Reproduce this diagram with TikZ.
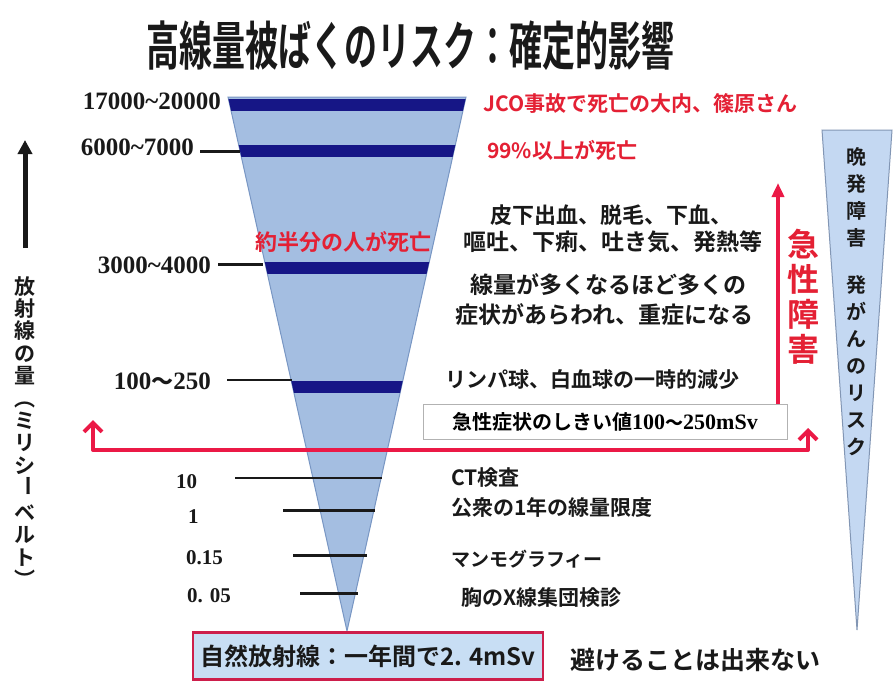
\documentclass[tikz,border=0pt]{standalone}
\usepackage{fontspec}
\usepackage{graphicx}
\usetikzlibrary{arrows.meta}
\setmainfont{Liberation Serif}
\newfontfamily\jp{Noto Sans CJK JP Bold}
\definecolor{funnel}{RGB}{164,190,225}
\definecolor{funneledge}{RGB}{120,150,195}
\definecolor{band}{RGB}{22,22,134}
\definecolor{jred}{RGB}{228,32,52}
\definecolor{ared}{RGB}{235,25,70}
\definecolor{late}{RGB}{196,216,242}
\definecolor{lateedge}{RGB}{130,150,180}
\definecolor{txt}{RGB}{25,25,25}
\definecolor{natbox}{RGB}{200,222,244}
\definecolor{natedge}{RGB}{205,30,75}
\tikzset{
  num/.style={font=\bfseries\fontsize{25}{25}\selectfont, text=txt, inner sep=0pt, anchor=east},
  smallnum/.style={font=\bfseries\fontsize{21}{21}\selectfont, text=txt, inner sep=0pt, anchor=west},
  jtext/.style={font=\jp\fontsize{22}{22}\selectfont, text=txt, inner sep=0pt, anchor=west},
  rtext/.style={font=\jp\fontsize{21}{21}\selectfont, text=jred, inner sep=0pt, anchor=west},
  leader/.style={line width=3pt, draw=txt},
  redarrow/.style={draw=ared, line width=4pt, line join=round},
}
\begin{document}
\begin{tikzpicture}[x=1pt,y=-1pt]
\useasboundingbox (0,0) rectangle (896,680);
\fill[white] (0,0) rectangle (896,680);

% title
\node[font=\jp\fontsize{50}{50}\selectfont, text=txt, inner sep=0pt] (title) at (410,46) {\scalebox{0.66}[1.05]{高線量被ばくのリスク：確定的影響}};

% funnel
\begin{scope}
  \path[fill=funnel, draw=funneledge, line width=1pt] (228,97) -- (466,97) -- (347,631) -- cycle;
  \clip (228,97) -- (466,97) -- (347,631) -- cycle;
  \fill[band] (200,99) rectangle (500,111);
  \fill[band] (200,145) rectangle (500,157);
  \fill[band] (200,262) rectangle (500,274);
  \fill[band] (200,381) rectangle (500,393);
\end{scope}

% right late-effect triangle
\path[fill=late, draw=lateedge, line width=1pt] (822,130) -- (892,130) -- (857,630) -- cycle;

% left labels
\node[num] (n1) at (221,101) {17000\textasciitilde 20000};
\node[num] (n2) at (194,147) {6000\textasciitilde 7000};
\node[num] (n3) at (211,265) {3000\textasciitilde 4000};
\node[num] (n4) at (211,381) {100{\jp\fontsize{22}{22}\selectfont 〜}250};
\node[smallnum] (n5) at (176,482) {10};
\node[smallnum] (n6) at (188,517) {1};
\node[smallnum] (n7) at (186,558) {0.15};
\node[smallnum] (n8) at (187,596) {0. 05};

\coordinate (a2) at (200,151); \coordinate (b2) at (240,151);
\coordinate (a3) at (218,264); \coordinate (b3) at (263,264);
\coordinate (a4) at (227,380); \coordinate (b4) at (292,380);
\coordinate (a5) at (235,478); \coordinate (b5) at (382,478);
\coordinate (a6) at (283,510); \coordinate (b6) at (375,510);
\coordinate (a7) at (293,555); \coordinate (b7) at (367,555);
\coordinate (a8) at (300,593); \coordinate (b8) at (358,593);
\draw[leader] (a2) -- (b2);
\draw[leader] (a3) -- (b3);
\draw[leader, line width=2pt] (a4) -- (b4);
\draw[leader, line width=2pt] (a5) -- (b5);
\draw[leader] (a6) -- (b6);
\draw[leader] (a7) -- (b7);
\draw[leader] (a8) -- (b8);

% red texts
\node[rtext, font=\jp\fontsize{22}{22}\selectfont] (half) at (255,242) {約半分の人が死亡};
\node[rtext] (jco) at (483,103) {JCO事故で死亡の大内、篠原さん};
\node[rtext] (p99) at (487,150) {99\%以上が死亡};

% right black texts
\node[jtext] (s1) at (490,215) {皮下出血、脱毛、下血、};
\node[jtext, font=\jp\fontsize{23}{23}\selectfont] (s2) at (463,242) {嘔吐、下痢、吐き気、発熱等};
\node[jtext, font=\jp\fontsize{23}{23}\selectfont] (s3) at (470,285) {線量が多くなるほど多くの};
\node[jtext, font=\jp\fontsize{23}{23}\selectfont] (s4) at (455,315) {症状があらわれ、重症になる};
\node[jtext, font=\jp\fontsize{21}{21}\selectfont] (s5) at (445,380) {リンパ球、白血球の一時的減少};

\node[draw=gray!60, line width=1pt, fill=white, minimum width=364pt, minimum height=35pt, inner sep=0pt] (thr) at (605,421.5)
  {{\jp\fontsize{20}{20}\selectfont 急性症状のしきい値}{\bfseries\fontsize{22}{22}\selectfont 100{\jp\fontsize{18}{18}\selectfont 〜}250mSv}};

\node[jtext, font=\jp\fontsize{21}{21}\selectfont] (ct) at (451,478) {CT検査};
\node[jtext, font=\jp\fontsize{21}{21}\selectfont] (pub) at (451,508) {公衆の1年の線量限度};
\node[jtext, font=\jp\fontsize{19}{19}\selectfont] (mam) at (451,559) {マンモグラフィー};
\node[jtext, font=\jp\fontsize{21}{21}\selectfont] (xr) at (461,598) {胸のX線集団検診};

% arrows
\coordinate (la) at (93,420); \coordinate (lb) at (93,450);
\coordinate (rb) at (808,450); \coordinate (ra) at (808,428);
\draw[redarrow, {Straight Barb[length=9pt,width=18pt]}-{Straight Barb[length=9pt,width=18pt]}] (la) -- (lb) -- (rb) -- (ra);
\coordinate (vs) at (778,404); \coordinate (ve) at (778,183);
\draw[redarrow, -{Triangle[length=14pt,width=12pt]}] (vs) -- (ve);
\coordinate (ks) at (25,248); \coordinate (ke) at (25,140);
\draw[draw=txt, line width=5pt, -{Triangle[length=14pt,width=14pt]}] (ks) -- (ke);

% vertical texts
\node[font=\jp\fontsize{32}{35}\selectfont, text=jred, align=center, inner sep=0pt] (acute) at (803,297) {急\\性\\障\\害};
\node[font=\jp\fontsize{21}{22.4}\selectfont, text=txt, align=center, inner sep=0pt] (axis) at (25,432)
  {放\\射\\線\\の\\量\\︵\\ミ\\リ\\シ\\\raisebox{0.35em}{\rotatebox[origin=c]{-90}{ー}}\\ベ\\ル\\ト\\︶};
\node[font=\jp\fontsize{20}{27}\selectfont, text=txt, align=center, inner sep=0pt] (latetxt) at (856,302)
  {晩\\発\\障\\害\\[20pt]発\\が\\ん\\の\\リ\\ス\\ク};

% bottom
\node[draw=natedge, fill=natbox, line width=2.5pt, minimum width=350pt, minimum height=47pt, inner sep=0pt,
      font=\jp\fontsize{24}{24}\selectfont, text=txt] (nat) at (368,656) {自然放射線：一年間で2. 4mSv};
\node[jtext, font=\jp\fontsize{25}{25}\selectfont] (avoid) at (570,660) {避けることは出来ない};
\end{tikzpicture}
\end{document}
